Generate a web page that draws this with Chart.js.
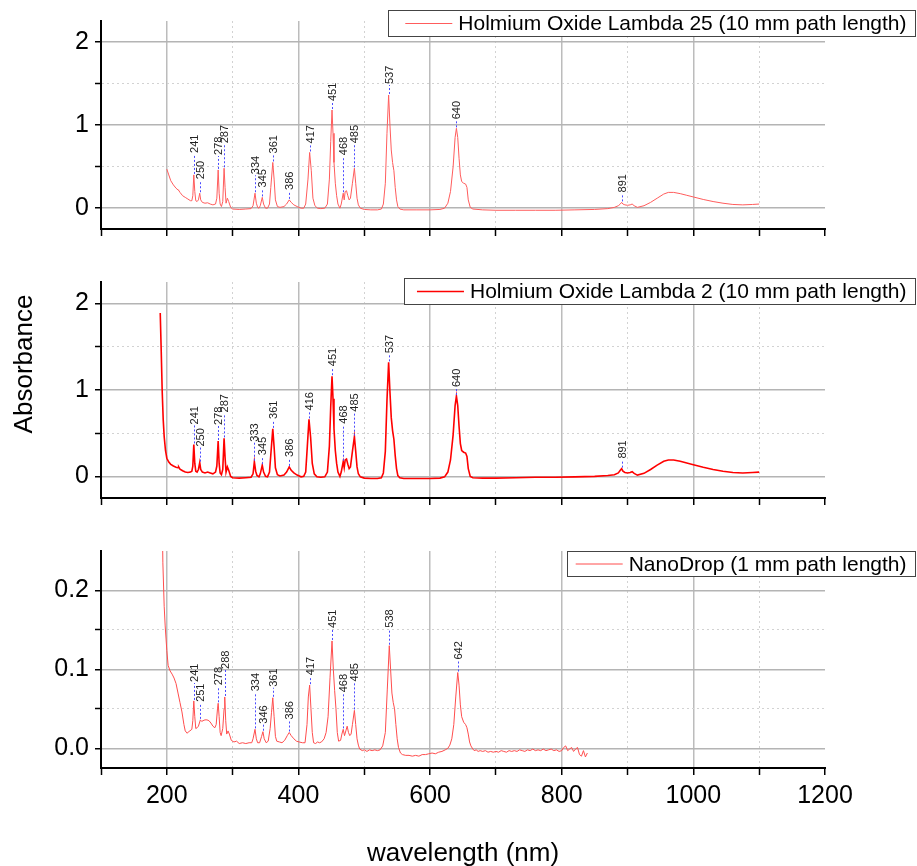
<!DOCTYPE html>
<html><head><meta charset="utf-8">
<script src="https://cdn.jsdelivr.net/npm/chart.js@4.4.1/dist/chart.umd.min.js"></script>
<style>
html,body{margin:0;padding:0;background:#fff;}
#wrap{position:relative;width:917px;height:866px;overflow:hidden;background:#fff;}
canvas{position:absolute;left:0;}
</style></head><body>
<div id="wrap">
<canvas id="c1" width="917" height="250" style="top:0px"></canvas>
<canvas id="c2" width="917" height="260" style="top:260px"></canvas>
<canvas id="c3" width="917" height="336" style="top:530px"></canvas>
</div>
<script>
// ---------------- DATA ----------------
const xTickValues = [100,200,300,400,500,600,700,800,900,1000,1100,1200];
const yTicksLambda = [0,0.5,1,1.5,2];
const yTicksNano = [0,0.05,0.1,0.15,0.2];

const seriesNames = [
  'Holmium Oxide Lambda 25 (10 mm path length)',
  'Holmium Oxide Lambda 2 (10 mm path length)',
  'NanoDrop (1 mm path length)'
];

// [wavelength nm, absorbance]
const lambda25 = [
[200,0.47],[203,0.40],[206,0.33],[210,0.28],[214,0.24],[217,0.22],[218,0.215],[220,0.19],[224,0.15],[228,0.13],
[232,0.11],[236,0.09],[238,0.09],[239.5,0.15],[241,0.40],[242.5,0.20],[244,0.09],[246,0.08],[248,0.10],[250,0.18],
[251.5,0.10],[254,0.07],[258,0.06],[262,0.065],[266,0.05],[270,0.04],[274,0.05],[276,0.12],[278,0.46],[279.5,0.18],
[281,0.05],[283,0.02],[285,0.08],[287,0.48],[288.5,0.25],[290,0.06],[292,0.12],[294,0.08],[297,0.01],[300,-0.01],
[310,-0.015],[320,-0.01],[328,-0.005],[331,0.03],[334,0.18],[336,0.06],[338,0.01],[340,0.0],[342,0.03],[345,0.13],
[347,0.05],[350,0.0],[353,0.0],[356,0.05],[358,0.25],[361,0.55],[363,0.35],[365,0.10],[368,0.02],[372,0.01],
[378,0.02],[382,0.05],[386,0.10],[389,0.07],[393,0.04],[398,0.02],[404,0.0],[408,0.0],[411,0.05],[414.5,0.35],
[417,0.67],[419.5,0.45],[422,0.12],[425,0.03],[429,0.0],[434,-0.005],[440,0.0],[444,0.05],[447,0.35],[449,0.80],
[451,1.18],[452.5,0.90],[454,0.55],[456,0.30],[458,0.15],[460,0.05],[463,0.0],[465,0.05],[468,0.18],[469.5,0.10],
[471,0.20],[473,0.21],[475,0.15],[477,0.10],[479,0.12],[482,0.30],[485,0.48],[487,0.30],[489,0.12],[491,0.04],
[494,0.0],[500,-0.015],[510,-0.02],[520,-0.02],[526,-0.01],[529,0.05],[532,0.30],[534.5,0.90],[537,1.36],[539,1.00],
[541,0.70],[543,0.55],[545,0.45],[547,0.25],[549,0.10],[551,0.02],[554,-0.01],[560,-0.02],[580,-0.02],[600,-0.02],
[615,-0.015],[622,0.0],[627,0.06],[631,0.20],[635,0.50],[638,0.85],[640,0.96],[642,0.85],[644,0.60],[646,0.40],
[648,0.32],[651,0.30],[654,0.29],[656,0.25],[658,0.10],[661,0.01],[665,-0.01],[680,-0.02],[700,-0.025],[730,-0.025],
[760,-0.025],[790,-0.025],[820,-0.02],[850,-0.015],[870,-0.005],[880,0.01],[886,0.03],[889,0.05],[891,0.07],[893,0.05],
[896,0.04],[900,0.035],[904,0.04],[907,0.05],[910,0.03],[915,0.01],[925,0.03],[935,0.07],[945,0.12],[955,0.17],
[962,0.19],[970,0.19],[980,0.175],[990,0.155],[1000,0.135],[1015,0.105],[1030,0.08],[1045,0.06],[1060,0.045],[1075,0.04],
[1090,0.045],[1100,0.05]
];

const lambda2 = [
[190,1.89],[191.5,1.45],[193,0.98],[194.5,0.66],[196,0.46],[198,0.30],[200,0.21],[203,0.165],[206,0.14],[210,0.12],
[214,0.105],[217,0.10],[218,0.11],[220,0.085],[224,0.065],[228,0.05],[232,0.045],[236,0.05],[238,0.06],[239.5,0.12],
[241,0.37],[242.5,0.15],[244,0.06],[246,0.05],[248,0.08],[250,0.16],[251.5,0.08],[254,0.05],[258,0.04],[262,0.05],
[266,0.04],[270,0.03],[274,0.05],[276,0.12],[278,0.41],[279.5,0.15],[281,0.04],[283,0.02],[285,0.08],[287,0.44],
[288.5,0.22],[290,0.05],[292,0.11],[294,0.07],[297,0.0],[300,-0.015],[310,-0.02],[320,-0.015],[328,-0.01],[331,0.03],
[333,0.17],[335,0.06],[337,0.01],[340,-0.005],[342,0.03],[345,0.13],[347,0.05],[350,0.0],[353,-0.005],[356,0.05],
[358,0.25],[361,0.55],[363,0.34],[365,0.10],[368,0.02],[372,0.005],[378,0.015],[382,0.05],[386,0.11],[389,0.07],
[393,0.04],[398,0.015],[404,-0.005],[408,0.0],[411,0.05],[413.5,0.35],[416,0.66],[418.5,0.45],[421,0.15],[424,0.03],
[428,-0.005],[434,-0.01],[440,-0.005],[444,0.05],[447,0.35],[449,0.80],[451,1.16],[452.5,0.90],[454,0.55],[456,0.30],
[458,0.15],[460,0.05],[463,0.0],[465,0.05],[468,0.17],[469.5,0.10],[471,0.19],[473,0.20],[475,0.14],[477,0.09],
[479,0.11],[482,0.29],[485,0.46],[487,0.29],[489,0.11],[491,0.03],[494,-0.005],[500,-0.02],[510,-0.025],[520,-0.025],
[526,-0.015],[529,0.04],[532,0.29],[534.5,0.88],[537,1.32],[539,0.98],[541,0.68],[543,0.53],[545,0.43],[547,0.24],
[549,0.09],[551,0.01],[554,-0.015],[560,-0.025],[580,-0.025],[600,-0.025],[615,-0.02],[622,-0.005],[627,0.05],[631,0.19],
[635,0.48],[638,0.82],[640,0.93],[642,0.82],[644,0.58],[646,0.38],[648,0.30],[651,0.28],[654,0.27],[656,0.23],
[658,0.09],[661,0.0],[665,-0.015],[680,-0.02],[700,-0.02],[730,-0.015],[760,-0.01],[790,-0.01],[820,-0.005],[850,0.0],
[870,0.01],[880,0.02],[886,0.04],[889,0.07],[891,0.09],[893,0.06],[896,0.045],[900,0.04],[904,0.045],[907,0.055],
[910,0.035],[915,0.015],[925,0.035],[935,0.08],[945,0.13],[955,0.175],[962,0.19],[970,0.19],[980,0.175],[990,0.155],
[1000,0.135],[1015,0.105],[1030,0.08],[1045,0.06],[1060,0.045],[1075,0.04],[1090,0.045],[1100,0.05]
];

const nanoDrop = [
[190,0.60],[192,0.36],[194,0.235],[196,0.18],[197.5,0.155],[200,0.124],[202,0.105],[205,0.098],[208,0.094],[211,0.089],
[214,0.082],[217,0.070],[220,0.058],[223,0.046],[226,0.030],[228,0.022],[231,0.019],[233,0.021],[235,0.022],[238,0.024],
[239.5,0.035],[241,0.060],[242.5,0.040],[244,0.025],[246,0.026],[248,0.028],[251,0.036],[253,0.034],[255,0.035],[258,0.036],
[261,0.036],[264,0.035],[267,0.032],[270,0.028],[273,0.026],[275,0.030],[277,0.050],[278,0.057],[279.5,0.040],[281,0.020],
[282.5,0.016],[285,0.025],[287,0.050],[288,0.065],[289.5,0.035],[291,0.018],[293,0.022],[295,0.018],[298,0.010],[302,0.008],
[306,0.009],[310,0.006],[315,0.007],[320,0.006],[325,0.007],[329,0.007],[331,0.012],[334,0.024],[336,0.012],[338,0.007],
[341,0.007],[344,0.015],[346,0.021],[348,0.012],[351,0.007],[354,0.009],[357,0.025],[359,0.045],[361,0.064],[363,0.040],
[365,0.015],[367,0.009],[371,0.008],[375,0.007],[379,0.010],[383,0.016],[386,0.020],[389,0.016],[393,0.012],[397,0.009],
[401,0.008],[406,0.007],[410,0.007],[413,0.030],[415,0.065],[417,0.080],[419,0.050],[421,0.020],[423,0.007],[426,0.006],
[429,0.008],[432,0.007],[435,0.008],[439,0.012],[442,0.020],[445,0.040],[448,0.090],[451,0.136],[453,0.100],[455,0.073],
[457,0.050],[459,0.020],[461,0.009],[464,0.010],[466,0.018],[468,0.024],[470,0.016],[472,0.022],[474,0.028],[476,0.020],
[478,0.016],[480,0.018],[482,0.030],[485,0.048],[487,0.030],[489,0.012],[491,0.004],[493,-0.001],[497,-0.003],[500,-0.002],
[504,-0.004],[508,-0.002],[512,-0.003],[516,-0.002],[520,-0.003],[524,-0.002],[528,0.003],[532,0.020],[535,0.075],[538,0.130],
[540,0.100],[542,0.070],[544,0.058],[546,0.050],[548,0.030],[550,0.012],[552,0.001],[555,-0.006],[558,-0.008],[563,-0.009],
[568,-0.009],[573,-0.010],[578,-0.009],[583,-0.010],[588,-0.008],[593,-0.008],[598,-0.007],[603,-0.006],[608,-0.007],[613,-0.005],
[618,-0.004],[623,-0.002],[627,0.000],[630,0.004],[633,0.012],[636,0.030],[639,0.065],[642,0.096],[644,0.080],[646,0.055],
[648,0.040],[651,0.033],[654,0.030],[656,0.026],[658,0.018],[660,0.008],[662,0.003],[665,-0.001],[667,-0.003],[670,-0.002],
[673,-0.004],[676,-0.003],[680,-0.004],[684,-0.003],[688,-0.005],[692,-0.004],[696,-0.005],[700,-0.004],[704,-0.005],[708,-0.003],
[712,-0.004],[716,-0.005],[720,-0.003],[724,-0.004],[728,-0.003],[732,-0.004],[736,-0.002],[740,-0.003],[744,-0.004],[748,-0.002],
[752,-0.003],[756,-0.001],[760,-0.003],[764,-0.002],[768,-0.003],[772,-0.001],[776,-0.003],[780,-0.002],[784,-0.001],[788,-0.003],
[792,-0.002],[796,-0.004],[800,-0.003],[803,0.001],[806,0.003],[809,-0.003],[812,-0.001],[815,0.001],[818,-0.004],[821,-0.001],
[824,0.001],[827,-0.008],[830,-0.010],[833,-0.003],[836,-0.011],[839,-0.006]
];

// peak annotations: wavelength and absorbance at the peak top
const peaksLambda25 = [241,250,278,287,334,345,361,386,417,451,468,485,537,640,891];
const peakTopsLambda25 = [0.40,0.18,0.46,0.48,0.18,0.13,0.55,0.10,0.67,1.18,0.18,0.48,1.36,0.96,0.07];
const peaksLambda2 = [241,250,278,287,333,345,361,386,416,451,468,485,537,640,891];
const peakTopsLambda2 = [0.37,0.16,0.41,0.44,0.17,0.13,0.55,0.11,0.66,1.16,0.17,0.46,1.32,0.93,0.09];
const peaksNano = [241,251,278,288,334,346,361,386,417,451,468,485,538,642];
const peakTopsNano = [0.060,0.036,0.057,0.065,0.024,0.021,0.064,0.020,0.080,0.136,0.024,0.048,0.130,0.096];

// ---------------- LAYOUT / STYLE ----------------
const FONT = "'Liberation Sans', Arial, Helvetica, sans-serif";
Chart.defaults.font.family = FONT;
const labelGaps1 = [21,13,14,24,18,9,8,9,8,8,37,24,10,8,9];
const labelGaps2 = [19,15,15,25,19,9,9,9,8,9,37,24,8,8,9];
const labelGaps3 = [18,17,17,27,37,7,10,12,9,12,36,28,17,12];

const isMajorX = v => Math.abs(v % 200) < 1e-9;

function makeChart(id, cfg) {
  const el = document.getElementById(id);
  const legendPlugin = {
    id: 'boxLegend' + id,
    afterDraw(chart) {
      const ctx = chart.ctx;
      ctx.save();
      ctx.font = '21px ' + FONT;
      const tw = ctx.measureText(cfg.label).width;
      const right = chart.width - 1.5;
      const textX = right - 9 - tw;
      const lineX1 = textX - 6, lineX0 = lineX1 - 47;
      const left = Math.round(lineX0 - cfg.legendLead) + 0.5;
      const top = cfg.legendTop + 0.5, h = cfg.legendH;
      ctx.fillStyle = '#fff';
      ctx.fillRect(left, top, right - left, h);
      ctx.strokeStyle = '#444'; ctx.lineWidth = 1;
      ctx.strokeRect(left, top, right - left, h);
      const cy = top + h / 2;
      ctx.strokeStyle = cfg.color; ctx.lineWidth = cfg.width;
      ctx.beginPath(); ctx.moveTo(lineX0, cy); ctx.lineTo(lineX1, cy); ctx.stroke();
      ctx.fillStyle = '#000'; ctx.textBaseline = 'middle'; ctx.textAlign = 'left';
      ctx.fillText(cfg.label, textX, cy + 1);
      ctx.restore();
    }
  };
  const peakPlugin = {
    id: 'peaks' + id,
    afterDatasetsDraw(chart) {
      const ctx = chart.ctx, xs = chart.scales.x, ys = chart.scales.y;
      ctx.save();
      cfg.peaks.forEach((wl, i) => {
        const px = Math.round(xs.getPixelForValue(wl)) + 0.5;
        const py = ys.getPixelForValue(cfg.tops[i]);
        const gap = cfg.gaps[i];
        ctx.strokeStyle = '#4b4bff'; ctx.lineWidth = 1; ctx.setLineDash([2, 2]);
        ctx.beginPath(); ctx.moveTo(px, py - 1); ctx.lineTo(px, py - gap); ctx.stroke();
        ctx.setLineDash([]);
        ctx.save();
        ctx.translate(px + 3.5, py - gap - 1);
        ctx.rotate(-Math.PI / 2);
        ctx.fillStyle = '#222'; ctx.font = '11px ' + FONT;
        ctx.textAlign = 'left'; ctx.textBaseline = 'alphabetic';
        ctx.fillText(String(wl), 0, 0);
        ctx.restore();
      });
      ctx.restore();
    }
  };
  const yTitlePlugin = {
    id: 'ytitle' + id,
    afterDraw(chart) {
      if (!cfg.yTitle) return;
      const ctx = chart.ctx;
      ctx.save();
      ctx.translate(cfg.yTitle.x, cfg.yTitle.y);
      ctx.rotate(-Math.PI / 2);
      ctx.font = '26px ' + FONT; ctx.fillStyle = '#000';
      ctx.textAlign = 'center'; ctx.textBaseline = 'alphabetic';
      ctx.fillText(cfg.yTitle.text, 0, 0);
      ctx.restore();
    }
  };
  return new Chart(el, {
    type: 'line',
    data: { datasets: [{
      label: cfg.label,
      data: cfg.points.map(p => ({ x: p[0], y: p[1] })),
      borderColor: cfg.color, borderWidth: cfg.width,
      pointRadius: 0, tension: 0, fill: false
    }] },
    options: {
      responsive: false, animation: false, devicePixelRatio: 1,
      layout: { padding: { top: cfg.padTop, right: 92, left: 0, bottom: 0 } },
      plugins: { legend: { display: false }, tooltip: { enabled: false } },
      scales: {
        x: {
          type: 'linear', min: 100, max: 1200,
          afterBuildTicks: s => { s.ticks = xTickValues.map(v => ({ value: v })); },
          afterFit: s => { s.height = cfg.xHeight; },
          ticks: {
            display: cfg.xLabels, autoSkip: false, maxRotation: 0, minRotation: 0,
            padding: 6, color: '#000', font: { family: FONT, size: 25 },
            callback: v => isMajorX(v) ? String(v) : ''
          },
          grid: {
            color: c => {
              const v = c.tick ? c.tick.value : null;
              if (v === null || v === 100 || v === 1200) return 'rgba(0,0,0,0)';
              return isMajorX(v) ? '#bcbcbc' : '#d2d2d2';
            },
            lineWidth: c => (c.tick && isMajorX(c.tick.value)) ? 1.5 : 1,
            tickColor: '#000', tickLength: 7, tickWidth: 1.5
          },
          border: {
            color: '#000', width: 2,
            dash: c => (c.tick && !isMajorX(c.tick.value)) ? [2, 3] : []
          },
          title: cfg.xTitle
            ? { display: true, text: cfg.xTitle, color: '#000', font: { family: FONT, size: 26 }, padding: { top: 0, bottom: -3 } }
            : { display: false }
        },
        y: {
          min: cfg.yMin, max: cfg.yMax,
          afterBuildTicks: s => { s.ticks = cfg.yTicks.map(v => ({ value: v })); },
          afterFit: s => { s.width = 101; },
          ticks: {
            padding: 6, color: '#000', font: { family: FONT, size: 25 },
            callback: v => cfg.yMajor(v) ? cfg.yFmt(v) : ''
          },
          grid: {
            color: c => (c.tick && cfg.yMajor(c.tick.value)) ? '#b4b4b4' : '#d2d2d2',
            lineWidth: c => (c.tick && cfg.yMajor(c.tick.value)) ? 1.5 : 1,
            tickColor: '#000', tickLength: 6, tickWidth: 1.5
          },
          border: {
            color: '#000', width: 2,
            dash: c => (c.tick && !cfg.yMajor(c.tick.value)) ? [2, 3] : []
          }
        }
      }
    },
    plugins: [peakPlugin, legendPlugin, yTitlePlugin]
  });
}

const intMajor = v => Math.abs(v - Math.round(v)) < 1e-9;
const tenthMajor = v => Math.abs(v * 10 - Math.round(v * 10)) < 1e-9;

makeChart('c1', {
  label: seriesNames[0], points: lambda25, color: '#ff5c5c', width: 1,
  padTop: 13, xHeight: 20, xLabels: false,
  yMin: -0.25, yMax: 2.25, yTicks: yTicksLambda, yMajor: intMajor, yFmt: v => String(v),
  peaks: peaksLambda25, tops: peakTopsLambda25, gaps: labelGaps1,
  legendTop: 10, legendH: 26, legendLead: 17
});
makeChart('c2', {
  label: seriesNames[1], points: lambda2, color: '#ff0000', width: 1.6,
  padTop: 22, xHeight: 22, xLabels: false,
  yMin: -0.25, yMax: 2.25, yTicks: yTicksLambda, yMajor: intMajor, yFmt: v => String(v),
  peaks: peaksLambda2, tops: peakTopsLambda2, gaps: labelGaps2,
  legendTop: 18, legendH: 26, legendLead: 13,
  yTitle: { text: 'Absorbance', x: 32, y: 104 }
});
makeChart('c3', {
  label: seriesNames[2], points: nanoDrop, color: '#ff4d4d', width: 1,
  padTop: 20, xHeight: 98, xLabels: true, xTitle: 'wavelength (nm)',
  yMin: -0.025, yMax: 0.25, yTicks: yTicksNano, yMajor: tenthMajor, yFmt: v => v.toFixed(1),
  peaks: peaksNano, tops: peakTopsNano, gaps: labelGaps3,
  legendTop: 21, legendH: 25, legendLead: 9
});
</script>
</body></html>
